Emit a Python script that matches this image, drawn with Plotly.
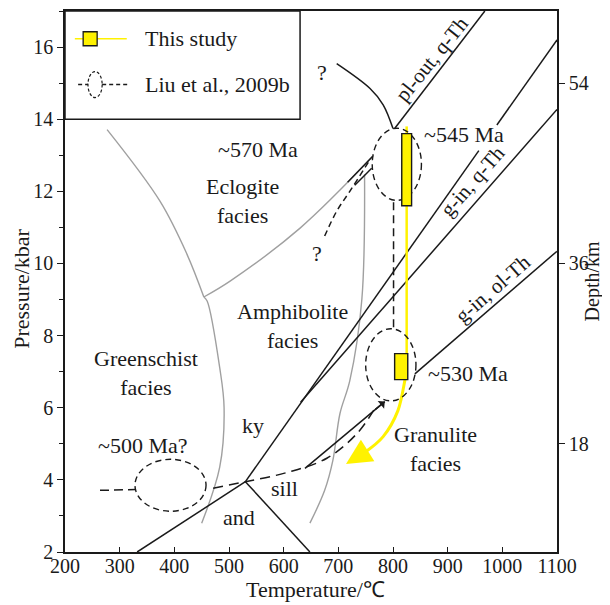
import plotly.graph_objects as go

# ---------------- data (T in degC, P in kbar) ----------------
# Al2SiO5 triple point and boundaries
and_ky_T = [332, 530]; and_ky_P = [2.0, 3.95]
and_sill_T = [530, 648]; and_sill_P = [3.95, 2.0]
# long ky-sill line (interrupted by the ~545 Ma label)
kysill_lo_T = [530, 957]; kysill_lo_P = [3.95, 13.13]
kysill_hi_T = [990, 1100]; kysill_hi_P = [13.84, 16.2]
# reaction lines
gin_qth_T = [631, 1100]; gin_qth_P = [6.15, 14.27]
gin_olth_T = [840, 1100]; gin_olth_P = [6.94, 10.34]
plout_T = [803, 968]; plout_P = [13.74, 17.0]
# facies boundaries (grey)
g1_T = [277, 374, 423, 454]; g1_P = [13.71, 11.72, 10.26, 9.07]
g2_T = [454, 502, 630, 763]; g2_P = [9.07, 9.51, 10.98, 12.97]
g3_T = [748, 743, 721, 703, 690, 675, 648]; g3_P = [12.47, 9.0, 6.75, 5.84, 4.54, 3.71, 2.8]
g4_T = [454, 460, 483, 491, 483, 450]; g4_P = [9.07, 8.96, 7.11, 6.0, 4.35, 2.8]
# Liu et al. 2009b path pieces
q_curve_T = [697, 758, 782, 800]; q_curve_P = [15.54, 14.85, 14.40, 13.74]
q_dash_T = [675, 697, 721, 758]; q_dash_P = [10.76, 11.45, 12.0, 12.88]
barb1_T = [717, 763]; barb1_P = [12.25, 12.97]
barb2_T = [730, 761]; barb2_P = [12.17, 12.64]
vdash_T = [801, 801]; vdash_P = [11.7, 8.2]
low_dash_T = [264, 330]; low_dash_P = [3.71, 3.73]
mid_dash_T = [471, 530, 605, 679, 735, 770]; mid_dash_P = [3.77, 3.95, 4.2, 4.6, 5.3, 6.06]
solid_arrow_T = [639, 785]; solid_arrow_P = [4.32, 6.17]
# ellipses (centre T, centre P, half-width T, half-height P)
ell_545 = (807, 12.75, 45, 1.0)
ell_530 = (796, 7.19, 46, 1.0)
ell_500 = (393, 3.85, 65, 0.72)
# this study
bar_hi_T = [816, 834]; bar_hi_P = [11.6, 13.6]
bar_lo_T = [803, 827]; bar_lo_P = [6.78, 7.5]
yline_T = [825, 825]; yline_P = [13.8, 7.0]
ycurve_T = [825, 822, 809, 782, 750]; ycurve_P = [7.0, 6.78, 5.92, 5.2, 4.78]
yarrow_tip = (714, 4.44)
# depth axis
depth_ticks = [18, 36, 54]
km_per_kbar = 3.6
# text labels
labels = [
    ("~570 Ma", 553, 13.16), ("Eclogite<br>facies", 524, 11.72),
    ("Amphibolite<br>facies", 617, 8.27), ("Greenschist<br>facies", 348, 6.97),
    ("ky", 544, 5.51), ("sill", 602, 3.77), ("and", 518, 2.97),
    ("~500 Ma?", 343, 4.96), ("Granulite<br>facies", 878, 4.85),
    ("~530 Ma", 937, 6.94), ("~545 Ma", 930, 13.57), ("?", 670, 15.3), ("?", 661, 10.29),
]
rot_labels = [("pl-out, q-Th", 871, 15.67, -51), ("g-in, q-Th", 946, 12.28, -49),
              ("g-in, ol-Th", 982, 9.3, -41)]

FONT = "Liberation Serif"
BLACK = "#1a1a1a"; GREY = "#a0a0a0"; YEL = "#fff200"

fig = go.Figure()

def line(T, P, color=BLACK, width=1.5, dash="solid", shape="linear"):
    fig.add_trace(go.Scatter(x=T, y=P, mode="lines", hoverinfo="skip", showlegend=False,
                             line=dict(color=color, width=width, dash=dash, shape=shape)))

for T, P in [(g1_T, g1_P), (g2_T, g2_P), (g3_T, g3_P), (g4_T, g4_P)]:
    line(T, P, GREY, 1.4, shape="spline")
for T, P in [(and_ky_T, and_ky_P), (and_sill_T, and_sill_P), (kysill_lo_T, kysill_lo_P),
             (kysill_hi_T, kysill_hi_P), (gin_qth_T, gin_qth_P), (gin_olth_T, gin_olth_P),
             (plout_T, plout_P), (barb1_T, barb1_P), (barb2_T, barb2_P), (solid_arrow_T, solid_arrow_P)]:
    line(T, P)
line(q_curve_T, q_curve_P, shape="spline")
line(q_dash_T, q_dash_P, dash="6px,4px", shape="spline")
line(vdash_T, vdash_P, dash="8px,5px")
line(low_dash_T, low_dash_P, dash="9px,5px")
line(mid_dash_T, mid_dash_P, dash="10px,6px", shape="spline")

# yellow path
line(yline_T, yline_P, YEL, 2.5)
line(ycurve_T, ycurve_P, YEL, 3, shape="spline")

shapes = []
for cx, cy, rx, ry in [ell_545, ell_530, ell_500]:
    shapes.append(dict(type="circle", xref="x", yref="y", x0=cx - rx, x1=cx + rx, y0=cy - ry, y1=cy + ry,
                       line=dict(color=BLACK, width=1.4, dash="6px,4px")))
for T, P in [(bar_hi_T, bar_hi_P), (bar_lo_T, bar_lo_P)]:
    shapes.append(dict(type="rect", xref="x", yref="y", x0=T[0], x1=T[1], y0=P[0], y1=P[1],
                       fillcolor=YEL, line=dict(color=BLACK, width=1.4)))
# legend box
leg_T = [200, 630]; leg_P = [14, 17]
shapes.append(dict(type="rect", xref="x", yref="y", x0=leg_T[0], x1=leg_T[1], y0=leg_P[0], y1=leg_P[1],
                   fillcolor="white", line=dict(color=BLACK, width=1.5), layer="below"))
# legend glyphs
leg1_P = 16.23; leg2_P = 14.96
line([218, 313], [leg1_P, leg1_P], YEL, 1.5)
fig.add_trace(go.Scatter(x=[246], y=[leg1_P], mode="markers", showlegend=False, hoverinfo="skip",
                         marker=dict(symbol="square", size=14, color=YEL, line=dict(color=BLACK, width=1.3))))
line([224, 242], [leg2_P, leg2_P], dash="4px,3px")
line([268, 315], [leg2_P, leg2_P], dash="4px,3px")
shapes.append(dict(type="circle", xref="x", yref="y", x0=242, x1=268, y0=leg2_P - 0.36, y1=leg2_P + 0.36,
                   line=dict(color=BLACK, width=1.2, dash="3px,2px")))

ann = []
for txt, T, P in labels:
    ann.append(dict(text=txt, x=T, y=P, xref="x", yref="y", showarrow=False,
                    font=dict(family=FONT, size=22, color=BLACK)))
for txt, T, P, ang in rot_labels:
    ann.append(dict(text=txt, x=T, y=P, xref="x", yref="y", showarrow=False, textangle=ang,
                    font=dict(family=FONT, size=21, color=BLACK)))
ann.append(dict(text="This study", x=343, y=leg1_P, xref="x", yref="y", xanchor="left", showarrow=False,
                font=dict(family=FONT, size=22, color=BLACK)))
ann.append(dict(text="Liu et al., 2009b", x=343, y=leg2_P, xref="x", yref="y", xanchor="left", showarrow=False,
                font=dict(family=FONT, size=22, color=BLACK)))
# arrows
ann.append(dict(x=yarrow_tip[0], y=yarrow_tip[1], ax=ycurve_T[-1], ay=ycurve_P[-1], xref="x", yref="y",
                axref="x", ayref="y", showarrow=True, arrowhead=2, arrowsize=1.7, arrowwidth=3,
                arrowcolor=YEL, text=""))
ann.append(dict(x=solid_arrow_T[1], y=solid_arrow_P[1], ax=solid_arrow_T[1] - 20, ay=solid_arrow_P[1] - 0.25,
                xref="x", yref="y", axref="x", ayref="y", showarrow=True, arrowhead=1, arrowsize=1.2,
                arrowwidth=1.4, arrowcolor=BLACK, text=""))
# axis titles
ann.append(dict(text="Temperature/℃", x=0.51, y=-0.07, xref="paper", yref="paper", showarrow=False,
                xanchor="center", yanchor="middle", font=dict(family=FONT, size=22, color=BLACK)))
ann.append(dict(text="Pressure/kbar", x=-0.09, y=0.486, xref="paper", yref="paper", showarrow=False,
                xanchor="center", yanchor="middle", textangle=-90, font=dict(family=FONT, size=22, color=BLACK)))
ann.append(dict(text="Depth/km", x=1.073, y=0.5, xref="paper", yref="paper", showarrow=False,
                xanchor="center", yanchor="middle", textangle=-90, font=dict(family=FONT, size=20, color=BLACK)))

# invisible trace for depth axis
fig.add_trace(go.Scatter(x=[1100], y=[18], yaxis="y2", mode="markers", marker=dict(opacity=0),
                         showlegend=False, hoverinfo="skip"))

TICKFONT = dict(family=FONT, size=20, color=BLACK)
fig.update_layout(
    width=602, height=597, margin=dict(l=57, r=53, t=1, b=53),
    paper_bgcolor="white", plot_bgcolor="white", showlegend=False,
    font=dict(family=FONT, size=20, color=BLACK),
    shapes=shapes, annotations=ann,
    xaxis=dict(range=[200, 1100], dtick=100, tick0=200, ticks="inside", ticklen=5, tickcolor=BLACK,
               ticklabelstandoff=-5,
               showline=True, linecolor=BLACK, linewidth=1.5, mirror=True, showgrid=False, zeroline=False,
               tickfont=TICKFONT),
    yaxis=dict(range=[2, 17], tickvals=list(range(2, 17, 2)), ticks="outside", ticklen=6, tickcolor=BLACK,
               minor=dict(ticks="outside", dtick=1, tick0=0, ticklen=4, tickcolor=BLACK),
               showline=True, linecolor=BLACK, linewidth=1.5, mirror=True, showgrid=False, zeroline=False,
               tickfont=TICKFONT),
    yaxis2=dict(range=[2 * km_per_kbar, 17 * km_per_kbar], tickvals=depth_ticks, overlaying="y", side="right",
                ticks="outside", ticklen=6, tickcolor=BLACK, showline=True, linecolor=BLACK, linewidth=1.5,
                showgrid=False, zeroline=False, tickfont=TICKFONT),
)

fig.write_html("out.html")
